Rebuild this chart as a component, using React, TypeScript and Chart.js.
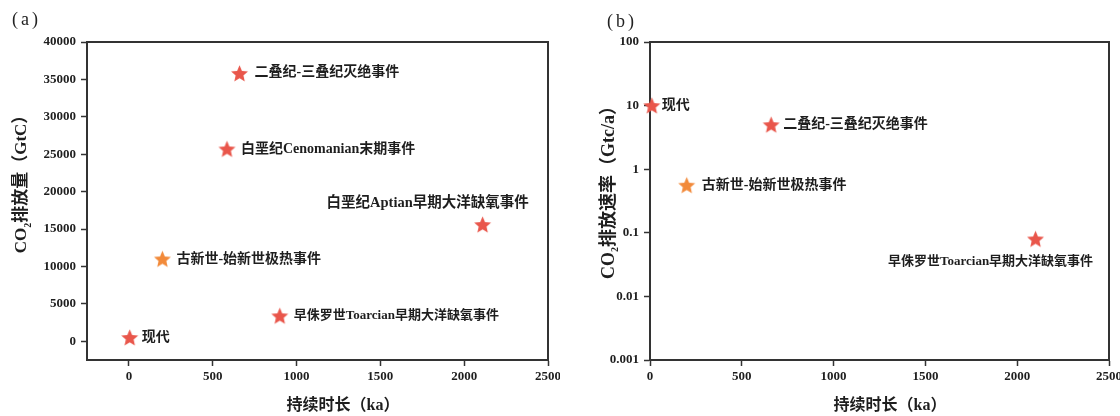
import React, { useEffect, useRef } from "react";
import { Chart, registerables } from "chart.js";

Chart.register(...registerables);

// ---------- data ----------
const eventsA = [
  "现代",
  "二叠纪-三叠纪灭绝事件",
  "白垩纪Cenomanian末期事件",
  "白垩纪Aptian早期大洋缺氧事件",
  "古新世-始新世极热事件",
  "早侏罗世Toarcian早期大洋缺氧事件",
];
const durationA = [5, 660, 585, 2110, 200, 900]; // ka
const emissionA = [500, 35800, 25700, 15600, 11000, 3400]; // GtC
const kindA = ["red", "red", "red", "red", "orange", "red"];

const eventsB = [
  "现代",
  "二叠纪-三叠纪灭绝事件",
  "古新世-始新世极热事件",
  "早侏罗世Toarcian早期大洋缺氧事件",
];
const durationB = [10, 660, 200, 2100]; // ka
const rateB = [10, 5, 0.56, 0.08]; // GtC/a
const kindB = ["red", "red", "orange", "red"];

const xTicks = [0, 500, 1000, 1500, 2000, 2500];
const yTicksA = [0, 5000, 10000, 15000, 20000, 25000, 30000, 35000, 40000];
const yTicksB = [0.001, 0.01, 0.1, 1, 10, 100];
const yTickLabelsB = ["0.001", "0.01", "0.1", "1", "10", "100"];

// label placement (relative to the marker) and text size
const placeA = [
  { dx: 12, dy: 0, align: "left", size: 14 },
  { dx: 15, dy: -1, align: "left", size: 14 },
  { dx: 14, dy: 0, align: "left", size: 14 },
  { dx: -55, dy: -21, align: "center", size: 14.5 },
  { dx: 14, dy: 0, align: "left", size: 14 },
  { dx: 14, dy: 0, align: "left", size: 13 },
];
const placeB = [
  { dx: 10, dy: 0, align: "left", size: 14 },
  { dx: 12, dy: 0, align: "left", size: 14 },
  { dx: 15, dy: 0, align: "left", size: 14 },
  { dx: -45, dy: 23, align: "center", size: 13 },
];

const COLORS: Record<string, string> = { red: "#E9564B", orange: "#F28A3A" };
const AXIS = "#333333";
const TEXT = "#1e1e1e";
const labelFont = (size: number) => `bold ${size}px 'Liberation Serif', 'Noto Sans CJK SC'`;

function makeStar(color: string, size = 19) {
  const c = document.createElement("canvas");
  c.width = size;
  c.height = size;
  const ctx = c.getContext("2d")!;
  const cx = size / 2, cy = size / 2 + 0.7;
  const R = size / 2 - 0.6, r = R * 0.46;
  ctx.beginPath();
  for (let i = 0; i < 10; i++) {
    const rad = i % 2 === 0 ? R : r;
    const a = -Math.PI / 2 + (i * Math.PI) / 5;
    const x = cx + rad * Math.cos(a), y = cy + rad * Math.sin(a);
    if (i === 0) ctx.moveTo(x, y); else ctx.lineTo(x, y);
  }
  ctx.closePath();
  ctx.fillStyle = color;
  ctx.fill();
  return c;
}

type Cfg = {
  events: string[];
  xs: number[];
  ys: number[];
  kinds: string[];
  place: { dx: number; dy: number; align: string; size: number }[];
  yType: "linear" | "logarithmic";
  xMin: number; xMax: number;
  yMin: number; yMax: number;
  yTicks: number[];
  yLabel: (v: number) => string;
  padLeft: number;
  padRight: number;
  yTitleParts: string[];
  yTitleSize: number;
  yTitleCenter: [number, number];
  xTitle: string;
  xTitleCenter: [number, number];
  panel: string;
  panelPos: [number, number];
};

function drawPlugin(cfg: Cfg) {
  return {
    id: "decor",
    beforeDatasetsDraw(chart: any) {
      const ctx: CanvasRenderingContext2D = chart.ctx;
      const a = chart.chartArea;
      ctx.save();
      ctx.strokeStyle = AXIS;
      ctx.lineWidth = 2;
      ctx.strokeRect(a.left, a.top, a.right - a.left, a.bottom - a.top);
      ctx.restore();
    },
    afterDraw(chart: any) {
      const ctx: CanvasRenderingContext2D = chart.ctx;
      ctx.save();

      // point labels
      const meta = chart.getDatasetMeta(0);
      ctx.fillStyle = TEXT;
      ctx.textBaseline = "middle";
      meta.data.forEach((pt: any, i: number) => {
        const p = cfg.place[i];
        ctx.font = labelFont(p.size);
        ctx.textAlign = p.align as CanvasTextAlign;
        ctx.fillText(cfg.events[i], pt.x + p.dx, pt.y + p.dy);
      });

      // x title
      ctx.font = "bold 16px 'Liberation Serif', 'Noto Sans CJK SC'";
      ctx.textAlign = "center";
      ctx.fillText(cfg.xTitle, cfg.xTitleCenter[0], cfg.xTitleCenter[1]);

      // y title with subscript
      const [p0, sub, p1] = cfg.yTitleParts;
      const big = `bold ${cfg.yTitleSize}px 'Liberation Serif', 'Noto Sans CJK SC'`;
      const small = "bold 10px 'Liberation Serif'";
      ctx.font = big;
      const w0 = ctx.measureText(p0).width;
      const w2 = ctx.measureText(p1).width;
      ctx.font = small;
      const w1 = ctx.measureText(sub).width;
      const total = w0 + w1 + w2;
      ctx.translate(cfg.yTitleCenter[0], cfg.yTitleCenter[1]);
      ctx.rotate(-Math.PI / 2);
      ctx.textAlign = "left";
      ctx.textBaseline = "middle";
      let x = -total / 2;
      ctx.font = big;
      ctx.fillText(p0, x, 0);
      x += w0;
      ctx.font = small;
      ctx.fillText(sub, x, 6);
      x += w1;
      ctx.font = big;
      ctx.fillText(p1, x, 0);
      ctx.setTransform(1, 0, 0, 1, 0, 0);

      // panel letter
      ctx.font = "18px 'Liberation Serif'";
      (ctx as any).letterSpacing = "3px";
      ctx.textAlign = "left";
      ctx.textBaseline = "middle";
      ctx.fillStyle = "#222";
      ctx.fillText(cfg.panel, cfg.panelPos[0], cfg.panelPos[1]);
      ctx.restore();
    },
  };
}

function Panel({ cfg }: { cfg: Cfg }) {
  const ref = useRef<HTMLCanvasElement>(null);
  useEffect(() => {
    const stars: Record<string, HTMLCanvasElement> = {
      red: makeStar(COLORS.red),
      orange: makeStar(COLORS.orange),
    };
    const tickFont = { family: "'Liberation Serif'", weight: "bold" as const, size: 13 };
    const chart = new Chart(ref.current!, {
      type: "scatter",
      data: {
        datasets: [
          {
            data: cfg.xs.map((x, i) => ({ x, y: cfg.ys[i] })),
            pointStyle: cfg.kinds.map((k) => stars[k]) as any,
            pointRadius: 9.5,
            pointHoverRadius: 9.5,
            clip: false,
          },
        ],
      },
      plugins: [drawPlugin(cfg)],
      options: {
        animation: false,
        responsive: false,
        events: [],
        layout: { padding: { left: 0, top: 42, right: cfg.padRight, bottom: 0 } },
        plugins: { legend: { display: false }, tooltip: { enabled: false } },
        scales: {
          x: {
            type: "linear",
            min: cfg.xMin,
            max: cfg.xMax,
            afterBuildTicks: (s: any) => {
              s.ticks = xTicks.map((v) => ({ value: v }));
            },
            afterFit: (s: any) => {
              s.height = 56;
              s.paddingLeft = 0;
              s.paddingRight = 0;
            },
            ticks: {
              color: TEXT,
              font: tickFont,
              padding: 3,
              maxRotation: 0,
              autoSkip: false,
              callback: (v: any) => String(v),
            },
            grid: {
              drawOnChartArea: false,
              drawTicks: true,
              tickLength: 6,
              tickColor: AXIS,
              tickWidth: 1.5,
            },
            border: { display: true, color: AXIS, width: 2 },
          },
          y: {
            type: cfg.yType,
            min: cfg.yMin,
            max: cfg.yMax,
            afterBuildTicks: (s: any) => {
              s.ticks = cfg.yTicks.map((v) => ({ value: v }));
            },
            afterFit: (s: any) => {
              s.width = cfg.padLeft;
              s.paddingTop = 0;
              s.paddingBottom = 0;
            },
            ticks: {
              color: TEXT,
              font: tickFont,
              padding: 5,
              autoSkip: false,
              callback: (v: any) => cfg.yLabel(Number(v)),
            },
            grid: {
              drawOnChartArea: false,
              drawTicks: true,
              tickLength: 6,
              tickColor: AXIS,
              tickWidth: 1.5,
            },
            border: { display: true, color: AXIS, width: 2 },
          },
        },
      } as any,
    });
    return () => chart.destroy();
  }, [cfg]);
  return <canvas ref={ref} width={560} height={416} style={{ display: "block" }} />;
}

const cfgA: Cfg = {
  events: eventsA,
  xs: durationA,
  ys: emissionA,
  kinds: kindA,
  place: placeA,
  yType: "linear",
  xMin: -250,
  xMax: 2500,
  yMin: -2500,
  yMax: 40000,
  yTicks: yTicksA,
  yLabel: (v) => String(v),
  padLeft: 87,
  padRight: 12,
  yTitleParts: ["CO", "2", "排放量（GtC）"],
  yTitleSize: 17,
  yTitleCenter: [22, 180],
  xTitle: "持续时长（ka）",
  xTitleCenter: [343, 406],
  panel: "(a)",
  panelPos: [12, 20],
};

const cfgB: Cfg = {
  events: eventsB,
  xs: durationB,
  ys: rateB,
  kinds: kindB,
  place: placeB,
  yType: "logarithmic",
  xMin: 0,
  xMax: 2500,
  yMin: 0.001,
  yMax: 100,
  yTicks: yTicksB,
  yLabel: (v) => {
    const i = yTicksB.findIndex((t) => Math.abs(t - v) / t < 1e-6);
    return i >= 0 ? yTickLabelsB[i] : "";
  },
  padLeft: 90,
  padRight: 11,
  yTitleParts: ["CO", "2", "排放速率（Gtc/a）"],
  yTitleSize: 18,
  yTitleCenter: [49, 188],
  xTitle: "持续时长（ka）",
  xTitleCenter: [330, 406],
  panel: "(b)",
  panelPos: [47, 22],
};

export default function App() {
  return (
    <div
      style={{
        position: "fixed",
        left: 0,
        top: 0,
        width: 1120,
        height: 416,
        display: "flex",
        background: "#fff",
      }}
    >
      <Panel cfg={cfgA} />
      <Panel cfg={cfgB} />
    </div>
  );
}
